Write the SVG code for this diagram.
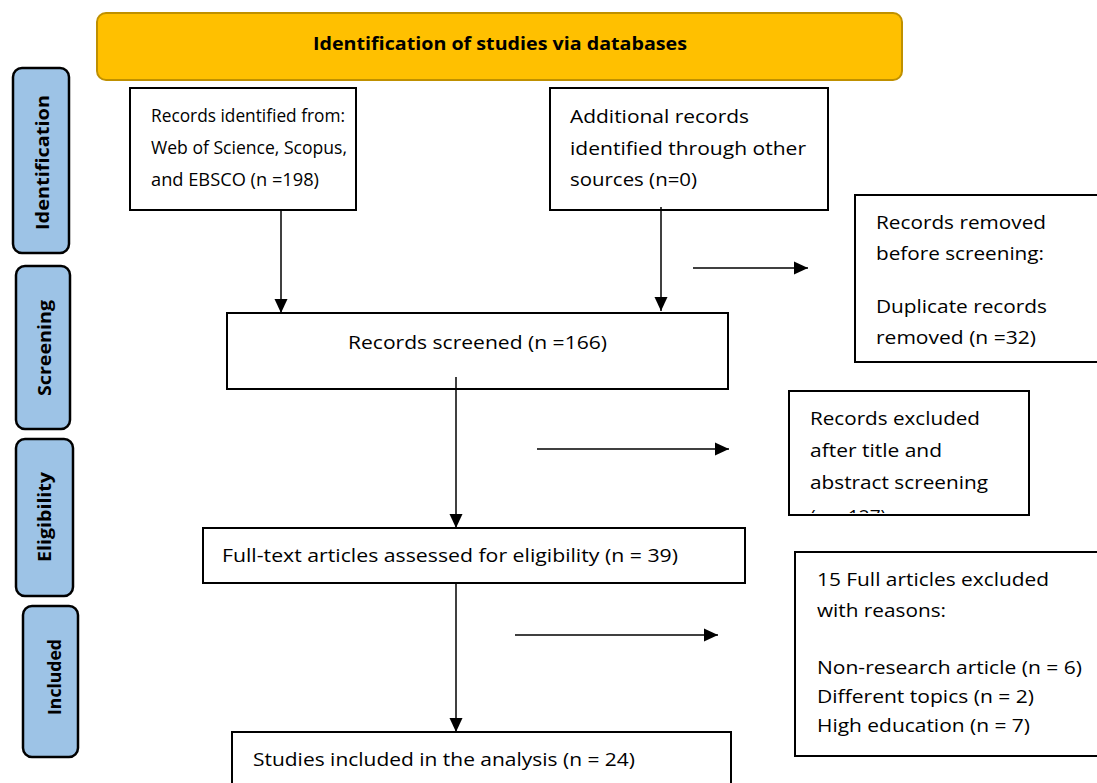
<svg xmlns="http://www.w3.org/2000/svg" width="1097" height="783" viewBox="0 0 1097 783">
<style>
.box{fill:#fff;stroke:#000;stroke-width:2}
.tab{fill:#9DC3E6;stroke:#000;stroke-width:2.5}
.t{font-family:"Open Sans","Liberation Sans",sans-serif;font-size:19px;fill:#000}
.tb{font-family:"Open Sans","Liberation Sans",sans-serif;font-size:17px;font-weight:bold;fill:#000}
.hd{font-family:"Open Sans","Liberation Sans",sans-serif;font-size:18px;font-weight:bold;fill:#000}
.c{stroke:#000;stroke-width:1.5;fill:none;marker-end:url(#ah)}
</style>
<defs>
<marker id="ah" viewBox="0 0 14 14" refX="14" refY="7" markerWidth="14" markerHeight="14" markerUnits="userSpaceOnUse" orient="auto">
<path d="M0,0.5 L14,7 L0,13.5 z" fill="#000"/>
</marker>
<clipPath id="clipEx"><rect x="790" y="392" width="238" height="121"/></clipPath>
</defs>
<rect width="1097" height="783" fill="#fff"/>
<g id="header">
<rect x="97" y="13" width="805" height="67" rx="9" fill="#FFC000" stroke="#BF9000" stroke-width="2"/>
<text class="hd" x="313" y="50" textLength="374" lengthAdjust="spacingAndGlyphs">Identification of studies via databases</text>
</g>
<g id="tab-identification">
<rect class="tab" x="13" y="68" width="56" height="185" rx="9"/>
<text class="tb" transform="translate(49,230) rotate(-90)" textLength="135" lengthAdjust="spacingAndGlyphs">Identification</text>
</g>
<g id="tab-screening">
<rect class="tab" x="16" y="266" width="54" height="163" rx="9"/>
<text class="tb" transform="translate(51,396) rotate(-90)" textLength="96" lengthAdjust="spacingAndGlyphs">Screening</text>
</g>
<g id="tab-eligibility">
<rect class="tab" x="16" y="439" width="57" height="157" rx="9"/>
<text class="tb" transform="translate(51,562) rotate(-90)" textLength="90" lengthAdjust="spacingAndGlyphs">Eligibility</text>
</g>
<g id="tab-included">
<rect class="tab" x="23" y="606" width="55" height="151" rx="9"/>
<text class="tb" transform="translate(61,715) rotate(-90)" textLength="76" lengthAdjust="spacingAndGlyphs">Included</text>
</g>
<g id="records-identified">
<rect class="box" x="130" y="88" width="226" height="122"/>
<text class="t" x="151" y="122" textLength="194" lengthAdjust="spacingAndGlyphs">Records identified from:</text>
<text class="t" x="151" y="154" textLength="196" lengthAdjust="spacingAndGlyphs">Web of Science, Scopus,</text>
<text class="t" x="151" y="186" textLength="168" lengthAdjust="spacingAndGlyphs">and EBSCO (n =198)</text>
</g>
<g id="additional-records">
<rect class="box" x="550" y="88" width="278" height="122"/>
<text class="t" x="570" y="123" textLength="179" lengthAdjust="spacingAndGlyphs">Additional records</text>
<text class="t" x="570" y="155" textLength="236" lengthAdjust="spacingAndGlyphs">identified through other</text>
<text class="t" x="570" y="186" textLength="127" lengthAdjust="spacingAndGlyphs">sources (n=0)</text>
</g>
<g id="records-removed">
<rect class="box" x="855" y="195" width="250" height="167"/>
<text class="t" x="876" y="229" textLength="170" lengthAdjust="spacingAndGlyphs">Records removed</text>
<text class="t" x="876" y="260" textLength="168" lengthAdjust="spacingAndGlyphs">before screening:</text>
<text class="t" x="876" y="313" textLength="171" lengthAdjust="spacingAndGlyphs">Duplicate records</text>
<text class="t" x="876" y="344" textLength="160" lengthAdjust="spacingAndGlyphs">removed (n =32)</text>
</g>
<g id="records-screened">
<rect class="box" x="227" y="313" width="501" height="76"/>
<text class="t" x="348" y="349" textLength="259" lengthAdjust="spacingAndGlyphs">Records screened (n =166)</text>
</g>
<g id="records-excluded">
<rect class="box" x="789" y="391" width="240" height="124"/>
<text class="t" x="810" y="425" textLength="170" lengthAdjust="spacingAndGlyphs">Records excluded</text>
<text class="t" x="810" y="457" textLength="132" lengthAdjust="spacingAndGlyphs">after title and</text>
<text class="t" x="810" y="489" textLength="178" lengthAdjust="spacingAndGlyphs">abstract screening</text>
<text class="t" x="810" y="523" clip-path="url(#clipEx)">(n = 127)</text>
</g>
<g id="full-text">
<rect class="box" x="203" y="528" width="542" height="55"/>
<text class="t" x="222" y="562" textLength="456" lengthAdjust="spacingAndGlyphs">Full-text articles assessed for eligibility (n = 39)</text>
</g>
<g id="full-excluded">
<rect class="box" x="795" y="552" width="310" height="204"/>
<text class="t" x="817" y="586" textLength="232" lengthAdjust="spacingAndGlyphs">15 Full articles excluded</text>
<text class="t" x="817" y="617" textLength="129" lengthAdjust="spacingAndGlyphs">with reasons:</text>
<text class="t" x="817" y="674" textLength="265" lengthAdjust="spacingAndGlyphs">Non-research article (n = 6)</text>
<text class="t" x="817" y="703" textLength="217" lengthAdjust="spacingAndGlyphs">Different topics (n = 2)</text>
<text class="t" x="817" y="732" textLength="213" lengthAdjust="spacingAndGlyphs">High education (n = 7)</text>
</g>
<g id="studies-included">
<rect class="box" x="232" y="732" width="499" height="60"/>
<text class="t" x="253" y="766" textLength="382" lengthAdjust="spacingAndGlyphs">Studies included in the analysis (n = 24)</text>
</g>
<g id="connectors">
<line class="c" x1="281" y1="210" x2="281" y2="313"/>
<line class="c" x1="661" y1="207" x2="661" y2="311"/>
<line class="c" x1="693" y1="268" x2="808" y2="268"/>
<line class="c" x1="456" y1="377" x2="456" y2="528"/>
<line class="c" x1="537" y1="449" x2="729" y2="449"/>
<line class="c" x1="456" y1="583" x2="456" y2="732"/>
<line class="c" x1="515" y1="635" x2="718" y2="635"/>
</g>
</svg>
